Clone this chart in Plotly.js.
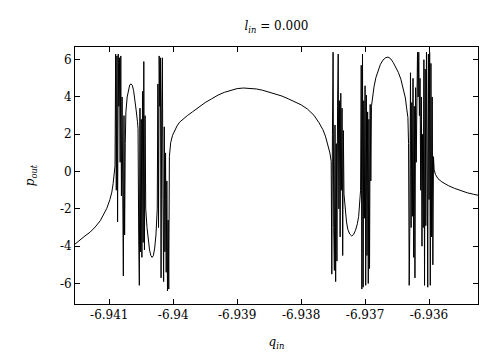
<!DOCTYPE html>
<html>
<head>
<meta charset="utf-8">
<script src="https://cdn.plot.ly/plotly-3.0.1.min.js"></script>
<style>
html,body{margin:0;padding:0;background:#fff;}
#chart{width:504px;height:354px;}
</style>
</head>
<body>
<div id="chart"></div>
<script>
// q_in values (x) and p_out values (y)
const qIn = [
  -6.94154,-6.94146,-6.94138,-6.94130,-6.94122,-6.94114,-6.94108,-6.94104,-6.94099,-6.94096,-6.94094,-6.94092,-6.94091,
  -6.94090,-6.94089,-6.94088,-6.94087,-6.94086,-6.94085,-6.94084,-6.94083,-6.94082,-6.94081,-6.94080,-6.94079,-6.94078,-6.94077,-6.94076,-6.94075,-6.94074,
  -6.94072,-6.94070,-6.94068,-6.94066,-6.94064,-6.94062,-6.94060,-6.94058,-6.94056,-6.94055,
  -6.94054,-6.94053,-6.94052,-6.94051,-6.94050,-6.94049,-6.94048,-6.94047,-6.94046,-6.94045,-6.94044,-6.94043,
  -6.94041,-6.94039,-6.94037,-6.94035,-6.94033,-6.94031,-6.94029,-6.94027,-6.94026,
  -6.94025,-6.94024,-6.94023,-6.94022,-6.94021,-6.94020,-6.94019,-6.94018,-6.94017,-6.94016,-6.94015,-6.94014,-6.94013,-6.94012,-6.94011,-6.94010,-6.94009,-6.94008,-6.94007,-6.94006,
  -6.94004,-6.94001,-6.93998,-6.93994,-6.93990,-6.93984,-6.93978,-6.93970,-6.93960,-6.93950,-6.93940,-6.93930,-6.93920,-6.93910,-6.93900,-6.93890,-6.93880,-6.93870,-6.93860,-6.93850,-6.93840,-6.93830,-6.93820,-6.93810,-6.93800,-6.93790,-6.93780,-6.93772,-6.93766,-6.93762,-6.93758,-6.93755,-6.93753,
  -6.93752,-6.93751,-6.93750,-6.93749,-6.93748,-6.93747,-6.93746,-6.93745,-6.93744,-6.93743,-6.93742,-6.93741,-6.93740,-6.93739,-6.93738,-6.93737,-6.93736,-6.93735,-6.93734,-6.93733,
  -6.93732,-6.93731,-6.93729,-6.93727,-6.93724,-6.93721,-6.93718,-6.93715,-6.93712,-6.93710,-6.93708,-6.93707,
  -6.93706,-6.93705,-6.93704,-6.93703,-6.93702,-6.93701,-6.93700,-6.93699,-6.93698,-6.93697,-6.93696,-6.93695,-6.93694,-6.93693,-6.93692,-6.93691,-6.93690,
  -6.93688,-6.93686,-6.93683,-6.93680,-6.93676,-6.93672,-6.93668,-6.93664,-6.93660,-6.93656,-6.93652,-6.93648,-6.93644,-6.93640,-6.93637,-6.93635,-6.93633,-6.93632,
  -6.93631,-6.93630,-6.93629,-6.93628,-6.93627,-6.93626,-6.93625,-6.93624,-6.93623,-6.93622,-6.93621,-6.93620,-6.93619,-6.93618,-6.93617,-6.93616,-6.93615,-6.93614,-6.93613,-6.93612,-6.93611,-6.93610,
  -6.93609,-6.93608,-6.93607,-6.93606,-6.93605,-6.93604,-6.93603,-6.93602,-6.93601,-6.93600,-6.93599,-6.93598,-6.93597,-6.93596,-6.93595,-6.93594,-6.93593,-6.93592,
  -6.93590,-6.93586,-6.93580,-6.93570,-6.93560,-6.93550,-6.93540,-6.93530,-6.93523
];
const pOut = [
  -3.9,-3.65,-3.45,-3.25,-2.97,-2.63,-2.28,-1.98,-1.5,-1.1,-0.65,-0.1,0.3,
  6.3,-1.0,6.2,-2.7,6.3,3.5,6.1,0.5,6.2,-1.3,4.0,-3.3,-5.6,3.0,-3.4,1.5,3.2,
  4.0,4.45,4.65,4.7,4.62,4.35,3.9,3.3,2.7,2.3,
  -3.5,-6.1,3.4,-4.3,2.8,-4.6,4.3,-3.8,5.9,-4.2,3.0,-2.0,
  -3.0,-3.7,-4.2,-4.5,-4.6,-4.5,-4.1,-3.4,-2.8,
  -2.0,4.7,-3.0,6.2,3.5,6.1,-5.7,3.4,6.1,-1.5,-5.9,2.4,-4.3,1.0,-5.4,-0.5,-6.4,-2.6,-6.3,0.8,
  1.55,1.95,2.2,2.45,2.65,2.85,3.0,3.2,3.45,3.7,3.9,4.1,4.25,4.37,4.45,4.48,4.47,4.43,4.36,4.27,4.15,4.05,3.9,3.75,3.58,3.35,3.02,2.62,2.25,1.9,1.45,1.0,0.55,
  -5.5,2.0,6.4,-3.0,-5.3,2.5,-5.9,1.5,-4.8,3.5,6.3,-2.0,3.8,-3.5,4.2,-1.0,3.4,-4.5,2.2,-1.2,
  -1.6,-2.1,-2.7,-3.1,-3.35,-3.45,-3.38,-3.15,-2.8,-2.4,-1.6,-1.0,
  5.7,-6.3,6.3,-6.2,3.8,-2.5,4.6,-6.1,4.1,-4.5,3.2,-6.0,2.8,-5.2,3.6,-0.5,3.5,
  4.1,4.55,5.05,5.4,5.75,5.98,6.1,6.14,6.05,5.85,5.62,5.32,4.95,4.45,3.95,3.4,2.9,1.5,
  -6.1,-2.9,5.3,-3.0,3.7,-2.4,5.0,-4.6,3.5,-5.7,4.5,0.5,5.7,6.4,4.0,6.4,3.0,5.0,-1.0,4.0,-4.0,2.0,
  -3.0,6.0,-6.1,5.5,-2.9,6.4,1.0,-6.2,6.3,-1.5,6.4,-6.1,5.8,-3.5,4.0,-5.0,0.8,0.1,
  -0.15,-0.38,-0.55,-0.75,-0.9,-1.03,-1.14,-1.22,-1.27
];
const xTickVals = [-6.941,-6.940,-6.939,-6.938,-6.937,-6.936];
const xTickText = ['-6.941','-6.94','-6.939','-6.938','-6.937','-6.936'];
const yTickVals = [-6,-4,-2,0,2,4,6];
const yTickText = ['-6','-4','-2','0','2','4','6'];

const FONT = 'DejaVu Serif';
const tickFont = {family:FONT, size:12, color:'#000'};
const axisCommon = {
  showgrid:false, zeroline:false, showline:true, linecolor:'#000', linewidth:1,
  mirror:'allticks', ticks:'inside', ticklen:5, tickwidth:1, tickcolor:'#000',
  tickfont:tickFont, tickmode:'array'
};

Plotly.newPlot('chart', [{
  x:qIn, y:pOut, type:'scatter', mode:'lines',
  line:{color:'#000', width:1}, hoverinfo:'skip'
}], {
  width:504, height:354,
  margin:{l:75, r:26, t:47, b:50, pad:0},
  paper_bgcolor:'#fff', plot_bgcolor:'#fff',
  showlegend:false,
  font:{family:FONT, color:'#000', size:12},
  title:{text:'<i>l</i><sub><i>in</i></sub> = 0.000', x:0.5, xref:'paper', xanchor:'center',
         y:0.927, yref:'container', yanchor:'middle',
         font:{family:FONT, size:12, color:'#000'}},
  xaxis:Object.assign({}, axisCommon, {
    range:[-6.941536,-6.935234], tickvals:xTickVals, ticktext:xTickText,
    title:{text:'<i>q</i><sub><i>in</i></sub>', standoff:16,
           font:{family:FONT, size:12, color:'#000'}}
  }),
  yaxis:Object.assign({}, axisCommon, {
    range:[-7.1,6.68], tickvals:yTickVals, ticktext:yTickText,
    title:{text:'<i>p</i><sub><i>out</i></sub>', standoff:22,
           font:{family:FONT, size:12, color:'#000'}}
  })
}, {staticPlot:true, displayModeBar:false});
</script>
</body>
</html>
